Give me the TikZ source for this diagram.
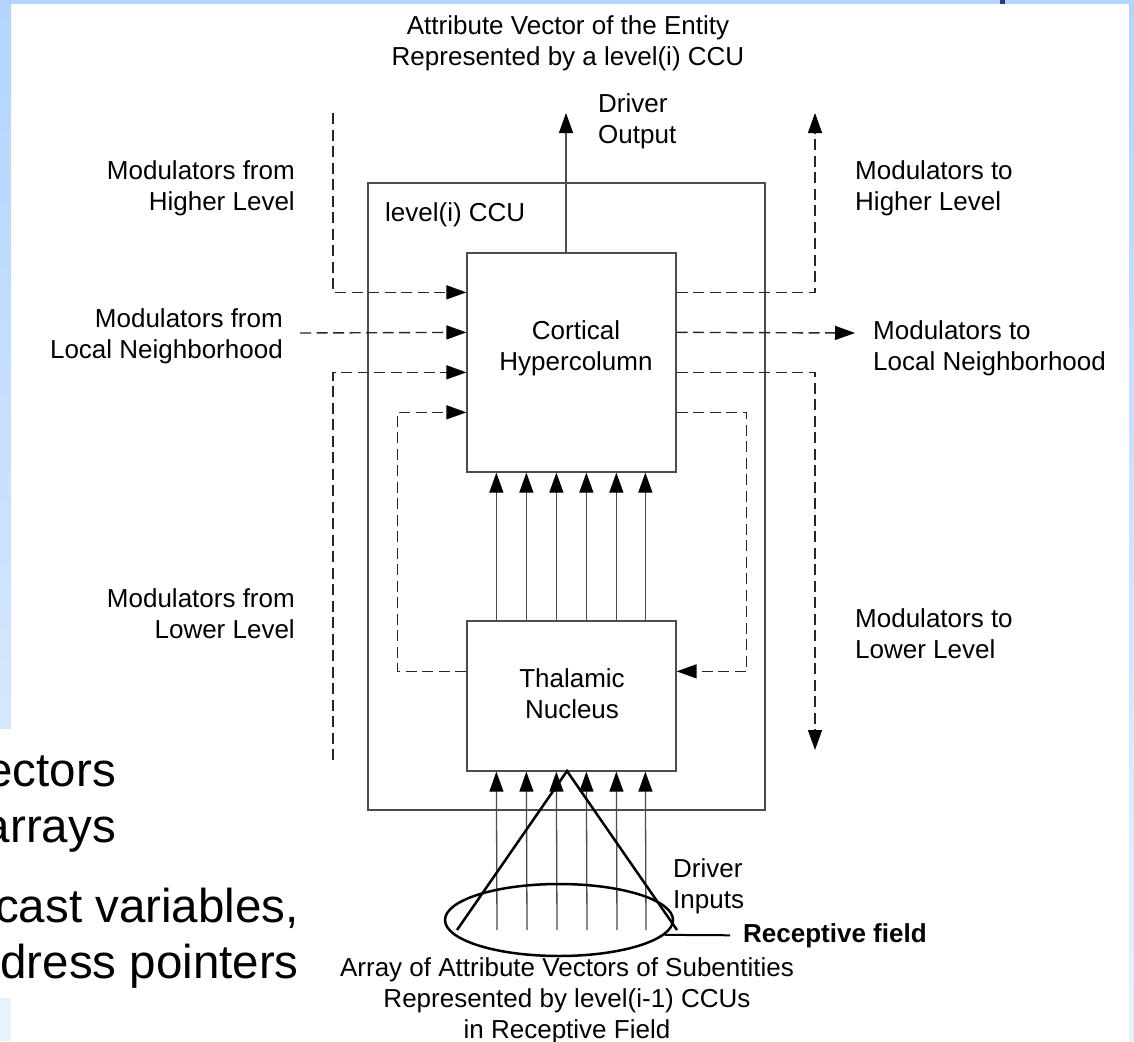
\documentclass[tikz,border=0pt]{standalone}
\usepackage{fontspec}
\setmainfont{Liberation Sans}
\usetikzlibrary{arrows.meta,shapes.geometric}
\definecolor{slideblue}{HTML}{B3D4FC}
\definecolor{slidenavy}{HTML}{2E3192}
\tikzset{
  unitbox/.style={draw=black!70,line width=1.3pt,inner sep=0pt},
  solidline/.style={draw=black!70,line width=1.3pt},
  modline/.style={draw=black!85,line width=1.4pt,dash pattern=on 11pt off 5.5pt},
  heavyline/.style={draw=black,line width=2.5pt},
  arr/.style={-{Triangle[length=20pt,width=14pt,color=black]}},
  lbl/.style={font=\fontsize{26}{31}\selectfont,inner sep=0pt},
  slidetxt/.style={font=\fontsize{47.5}{56}\selectfont,inner sep=0pt}
}
\begin{document}
\begin{tikzpicture}[x=1pt,y=-1pt]
% page and the slide behind it
\useasboundingbox (0,0) rectangle (1134,1041);
\fill[white] (0,0) rectangle (1134,1041);
\fill[slideblue] (0,0) rectangle (1134,4);
\shade[top color=slideblue,bottom color=slideblue!55] (0,0) rectangle (11,728);
\fill[slideblue!30] (0,998) rectangle (11,1041);
\shade[top color=slideblue,bottom color=slideblue!30] (1129,0) rectangle (1134,1041);
\fill[slidenavy] (1000,0) rectangle (1005,4);
\node[slidetxt,anchor=base east,align=right] (bulletA) at (116,842) {ectors\\arrays};
\node[slidetxt,anchor=base east,align=right] (bulletB) at (299,978) {cast variables,\\dress pointers};
% CCU and its two boxes
\node[unitbox,minimum width=397,minimum height=627] (ccu) at (566.5,496.5) {};
\node[unitbox,minimum width=209,minimum height=219] (cortex) at (571.5,362.5) {};
\node[unitbox,minimum width=209,minimum height=150] (thal) at (571.5,696) {};
\node[lbl,anchor=base west] (ccuTxt) at (385,221) {level(i) CCU};
\node[lbl,align=center,anchor=base] (cortexTxt) at (576,370) {Cortical\\Hypercolumn};
\node[lbl,align=center,anchor=base] (thalTxt) at (572,718) {Thalamic\\Nucleus};
% driver output
\node[lbl,align=center,anchor=base] (title) at (568,65) {Attribute Vector of the Entity\\Represented by a level(i) CCU};
\coordinate (drvOut) at (566,113);
\draw[solidline,arr] (drvOut |- cortex.north) -- (drvOut);
\node[lbl,align=left,anchor=base west] (drvOutTxt) at (598,143) {Driver\\Output};
% driver paths thalamus -> cortex, inputs -> thalamus
\coordinate (inBase) at (467,930);
\foreach \dx in {30,60,90,120,150,179} {
  \draw[solidline,arr] ([xshift=\dx]thal.north west) -- ([xshift=\dx]cortex.south west);
  \draw[solidline,arr] ([xshift=\dx]inBase) -- ([xshift=\dx]thal.south west);
}
% receptive field cone
\coordinate (apex) at (567,771);
\coordinate (coneL) at (457,930);
\coordinate (coneR) at (677,930);
\draw[heavyline] (coneL) -- (apex) -- (coneR);
\node[draw,ellipse,line width=2.5pt,minimum width=228,minimum height=72,inner sep=0pt] (field) at (559,920) {};
\node[lbl,font=\fontsize{26}{31}\selectfont\bfseries,anchor=base west] (fieldTxt) at (743,942) {Receptive field};
\draw[heavyline,line width=2pt] (field.-8) -- ([xshift=-13pt]fieldTxt.west);
\node[lbl,align=left,anchor=base west] (drvInTxt) at (673,908) {Driver\\Inputs};
\node[lbl,align=center,anchor=base] (arrayTxt) at (567,1038) {Array of Attribute Vectors of Subentities\\Represented by level(i-1) CCUs\\in Receptive Field};
% modulators in
\coordinate (hiIn) at (333,113);
\coordinate (locIn) at (300,333);
\coordinate (loIn) at (333,760);
\draw[modline,arr] (hiIn) |- ([yshift=-40pt]cortex.north west);
\draw[modline,arr] (locIn) -- ([yshift=-80pt]cortex.north west);
\draw[modline,arr] (loIn) |- ([yshift=-120pt]cortex.north west);
\draw[modline,arr] ([yshift=-51pt]thal.north west) -- ++(-69,0) |- ([yshift=-160pt]cortex.north west);
\draw[modline,arr] ([yshift=-160pt]cortex.north east) -- ++(70,0) |- ([yshift=-51pt]thal.north east);
% modulators out
\coordinate (hiOut) at (815,113);
\coordinate (locOut) at (855,333);
\coordinate (loOut) at (815,750);
\draw[modline,arr] ([yshift=-40pt]cortex.north east) -| (hiOut);
\draw[modline,arr] ([yshift=-80pt]cortex.north east) -- (locOut);
\draw[modline,arr] ([yshift=-120pt]cortex.north east) -| (loOut);
% labels
\node[lbl,align=right,anchor=base east] (hiInTxt) at (295,210) {Modulators from\\Higher Level};
\node[lbl,align=right,anchor=base east] (locInTxt) at (283,358) {Modulators from\\Local Neighborhood};
\node[lbl,align=right,anchor=base east] (loInTxt) at (295,638) {Modulators from\\Lower Level};
\node[lbl,align=left,anchor=base west] (hiOutTxt) at (855,210) {Modulators to\\Higher Level};
\node[lbl,align=left,anchor=base west] (locOutTxt) at (873,370) {Modulators to\\Local Neighborhood};
\node[lbl,align=left,anchor=base west] (loOutTxt) at (855,658) {Modulators to\\Lower Level};
\end{tikzpicture}
\end{document}
